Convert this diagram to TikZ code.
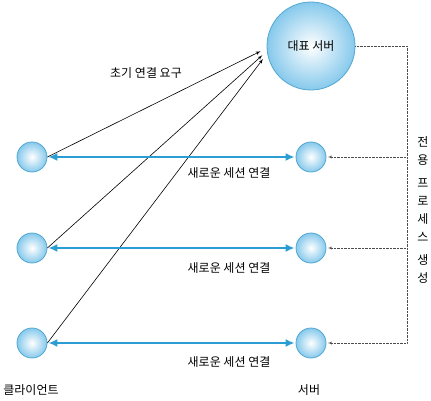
\documentclass[tikz,border=0pt]{standalone}
\usepackage{fontspec}
\setmainfont{Noto Sans CJK KR}
\usetikzlibrary{shapes,arrows,arrows.meta,positioning,calc}
\definecolor{ballline}{HTML}{52A7D0}
\definecolor{ballfill}{HTML}{86C9EC}
\definecolor{linkblue}{HTML}{2A9ED2}

\begin{document}
\begin{tikzpicture}[auto, x=1pt, y=-1pt, >=latex', font=\fontsize{12}{14}\selectfont]
\tikzset{
ball/.style     = {draw=ballline, shape=circle, inner sep=0pt, minimum size=30pt, inner color=white, outer color=ballfill, line width=0.8pt},
bigball/.style  = {ball, minimum size=88pt},
session/.style  = {{Latex[length=9pt,width=8pt]}-{Latex[length=9pt,width=8pt]}, draw=linkblue, line width=2.4pt, shorten <=1pt, shorten >=1pt},
request/.style  = {->, semithick, shorten >=5pt},
spawn/.style    = {->, densely dotted, draw=black!70, thin, shorten >=1.5pt},
caption/.style  = {inner sep=1pt},
}
    \useasboundingbox (0,0) rectangle (431,401);

    % Main nodes
    \node [bigball]     (mainsrv)   at (311,46)     {대표 서버};
    \node [ball]        (cli1)      at (32,157)     {};
    \node [ball]        (cli2)      at (32,248)     {};
    \node [ball]        (cli3)      at (32,343)     {};
    \node [ball]        (srv1)      at (311,157)    {};
    \node [ball]        (srv2)      at (311,248)    {};
    \node [ball]        (srv3)      at (311,343)    {};
    \coordinate         (bus)       at (407,343);

    % Labels
    \node [caption]     (reqlabel)  at (146,73)     {초기 연결 요구};
    \node [caption]     (sess1)     at (229,173)    {새로운 세션 연결};
    \node [caption]     (sess2)     at (229,268)    {새로운 세션 연결};
    \node [caption]     (sess3)     at (229,362)    {새로운 세션 연결};
    \node [caption]     (clilabel)  at (31,390)     {클라이언트};
    \node [caption]     (srvlabel)  at (309,390)    {서버};
    \node [caption, align=center, font=\fontsize{12}{18}\selectfont]
                        (spawnlabel) at (423,210)   {전\\용\\[5pt]프\\로\\세\\스\\[5pt]생\\성};

    % Main edges
    \draw [request]     (cli1.east)     --  ($(mainsrv.center)+(-46,3)$);
    \draw [request]     (cli2.east)     --  ($(mainsrv.center)+(-45,6)$);
    \draw [request]     (cli3.east)     --  ($(mainsrv.center)+(-45,9)$);
    \draw [session]     (cli1)          --  (srv1);
    \draw [session]     (cli2)          --  (srv2);
    \draw [session]     (cli3)          --  (srv3);
    \draw [spawn]       (mainsrv.east)  -|  (bus) -- (srv3.east);
    \draw [spawn]       (srv1 -| bus)   --  (srv1.east);
    \draw [spawn]       (srv2 -| bus)   --  (srv2.east);

\end{tikzpicture}
\end{document}
